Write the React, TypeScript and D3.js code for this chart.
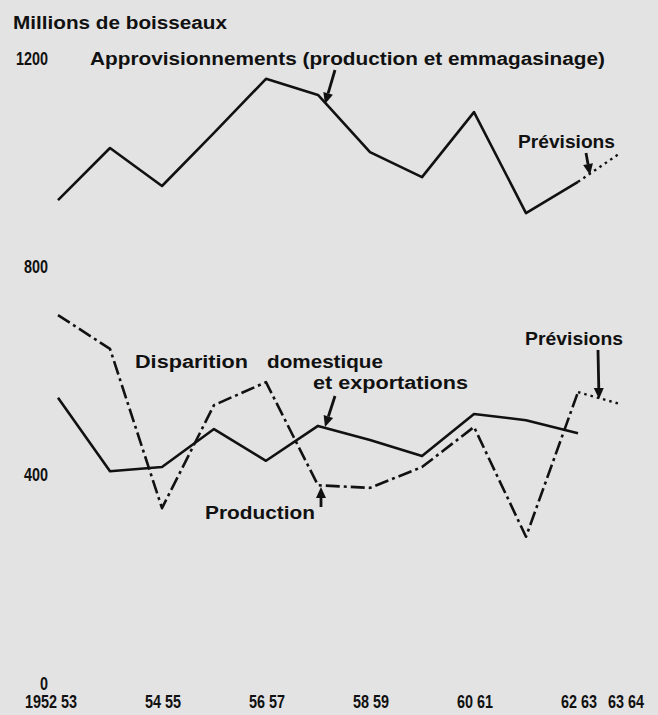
import * as d3 from "d3";

// crop years (start of the season), 1952-53 .. 1963-64
const years = [1952, 1953, 1954, 1955, 1956, 1957, 1958, 1959, 1960, 1961, 1962, 1963];
const tickYears = [1952, 1954, 1956, 1958, 1960, 1962, 1963];
const tickLabels = ["1952 53", "54 55", "56 57", "58 59", "60 61", "62 63", "63 64"];
const yTicks = [0, 400, 800, 1200];

// millions de boisseaux (last value = prévision)
const supplies = [928, 1028, 955, 1057, 1161, 1130, 1020, 972, 1097, 903, 963, 1018];
const disappearance = [548, 407, 415, 488, 427, 494, 467, 436, 517, 505, 480];
const production = [707, 642, 336, 534, 578, 380, 375, 415, 492, 281, 559, 536];

const W = 658;
const H = 715;
const INK = "#111";
const FONT = "'Liberation Sans', Arial, sans-serif";
const SQUEEZE = 0.8; // the tick digits are a condensed face

const x = d3.scaleLinear().domain([1952, 1962, 1963]).range([58, 578, 620]);
const y = d3.scaleLinear().domain([0, 1200]).range([683, 58.5]);

type Pt = [number, number];
const line = d3
  .line<Pt>()
  .x((d) => x(d[0]))
  .y((d) => y(d[1]));

const pts = (vals: number[]): Pt[] => vals.map((v, i) => [years[i], v]);

function Arrow({ x1, y1, x2, y2 }: { x1: number; y1: number; x2: number; y2: number }) {
  const a = Math.atan2(y2 - y1, x2 - x1);
  const len = 11;
  const half = 5;
  const bx = x2 - len * Math.cos(a);
  const by = y2 - len * Math.sin(a);
  const px = -Math.sin(a) * half;
  const py = Math.cos(a) * half;
  return (
    <g>
      <line x1={x1} y1={y1} x2={bx} y2={by} stroke={INK} strokeWidth={2.8} />
      <path d={`M${x2},${y2}L${bx + px},${by + py}L${bx - px},${by - py}Z`} fill={INK} />
    </g>
  );
}

function Label({ t, x0, x1, base }: { t: string; x0: number; x1: number; base: number }) {
  return (
    <text
      x={x0}
      y={base}
      fontFamily={FONT}
      fontWeight="bold"
      fontSize={18}
      fill={INK}
      textLength={x1 - x0}
      lengthAdjust="spacingAndGlyphs"
    >
      {t}
    </text>
  );
}

function Tick({ t, px, py, anchor }: { t: string; px: number; py: number; anchor: string }) {
  return (
    <text
      transform={`translate(${px},${py}) scale(${SQUEEZE},1)`}
      textAnchor={anchor}
      fontFamily={FONT}
      fontWeight="bold"
      fontSize={18}
      fill={INK}
    >
      {t}
    </text>
  );
}

export default function App() {
  const sup = pts(supplies);
  const dis = pts(disappearance);
  const prod = pts(production);
  const n = years.length;

  return (
    <svg
      width={W}
      height={H}
      style={{ position: "absolute", left: 0, top: 0, background: "#e3e3e3" }}
    >
      <rect width={W} height={H} fill="#e3e3e3" />

      {/* y tick labels */}
      {yTicks.map((t) => (
        <Tick key={t} t={String(t)} px={48} py={y(t) + 6.5} anchor="end" />
      ))}

      {/* x tick labels */}
      {tickYears.map((yr, i) => {
        const last = i === tickYears.length - 1;
        const anchor = i === 0 || last ? "start" : "middle";
        const px = i === 0 ? x(yr) - 33 : last ? x(yr) - 12 : x(yr) + 1;
        return <Tick key={yr} t={tickLabels[i]} px={px} py={708} anchor={anchor} />;
      })}

      {/* series */}
      <g fill="none" stroke={INK} strokeWidth={2.6} strokeLinejoin="round">
        <path d={line(sup.slice(0, n - 1)) ?? ""} />
        <path d={line(sup.slice(n - 2)) ?? ""} strokeDasharray="2.5 4" strokeWidth={2.4} />
        <path d={line(dis) ?? ""} />
        <path d={line(prod.slice(0, n - 1)) ?? ""} strokeDasharray="14 4 3 4" />
        <path d={line(prod.slice(n - 2)) ?? ""} strokeDasharray="2.5 4" strokeWidth={2.4} />
      </g>

      {/* texts */}
      <Label t="Millions de boisseaux" x0={13} x1={227} base={29} />
      <Label t="Approvisionnements (production et emmagasinage)" x0={90} x1={605} base={65} />
      <Label t="Prévisions" x0={518} x1={615} base={148} />
      <Label t="Disparition" x0={135} x1={248} base={368} />
      <Label t="domestique" x0={267} x1={383} base={368} />
      <Label t="et exportations" x0={313} x1={468} base={389} />
      <Label t="Production" x0={205} x1={315} base={519} />
      <Label t="Prévisions" x0={525} x1={623} base={345} />

      {/* arrows */}
      <Arrow x1={335} y1={70} x2={x(1957) + 7} y2={104} />
      <Arrow x1={586} y1={153} x2={x(1962) + 12} y2={175} />
      <Arrow x1={335} y1={396} x2={x(1957) + 7} y2={427} />
      <Arrow x1={x(1957) + 3} y1={507} x2={x(1957) + 3} y2={487} />
      <Arrow x1={598} y1={350} x2={x(1962) + 21} y2={399} />
    </svg>
  );
}
